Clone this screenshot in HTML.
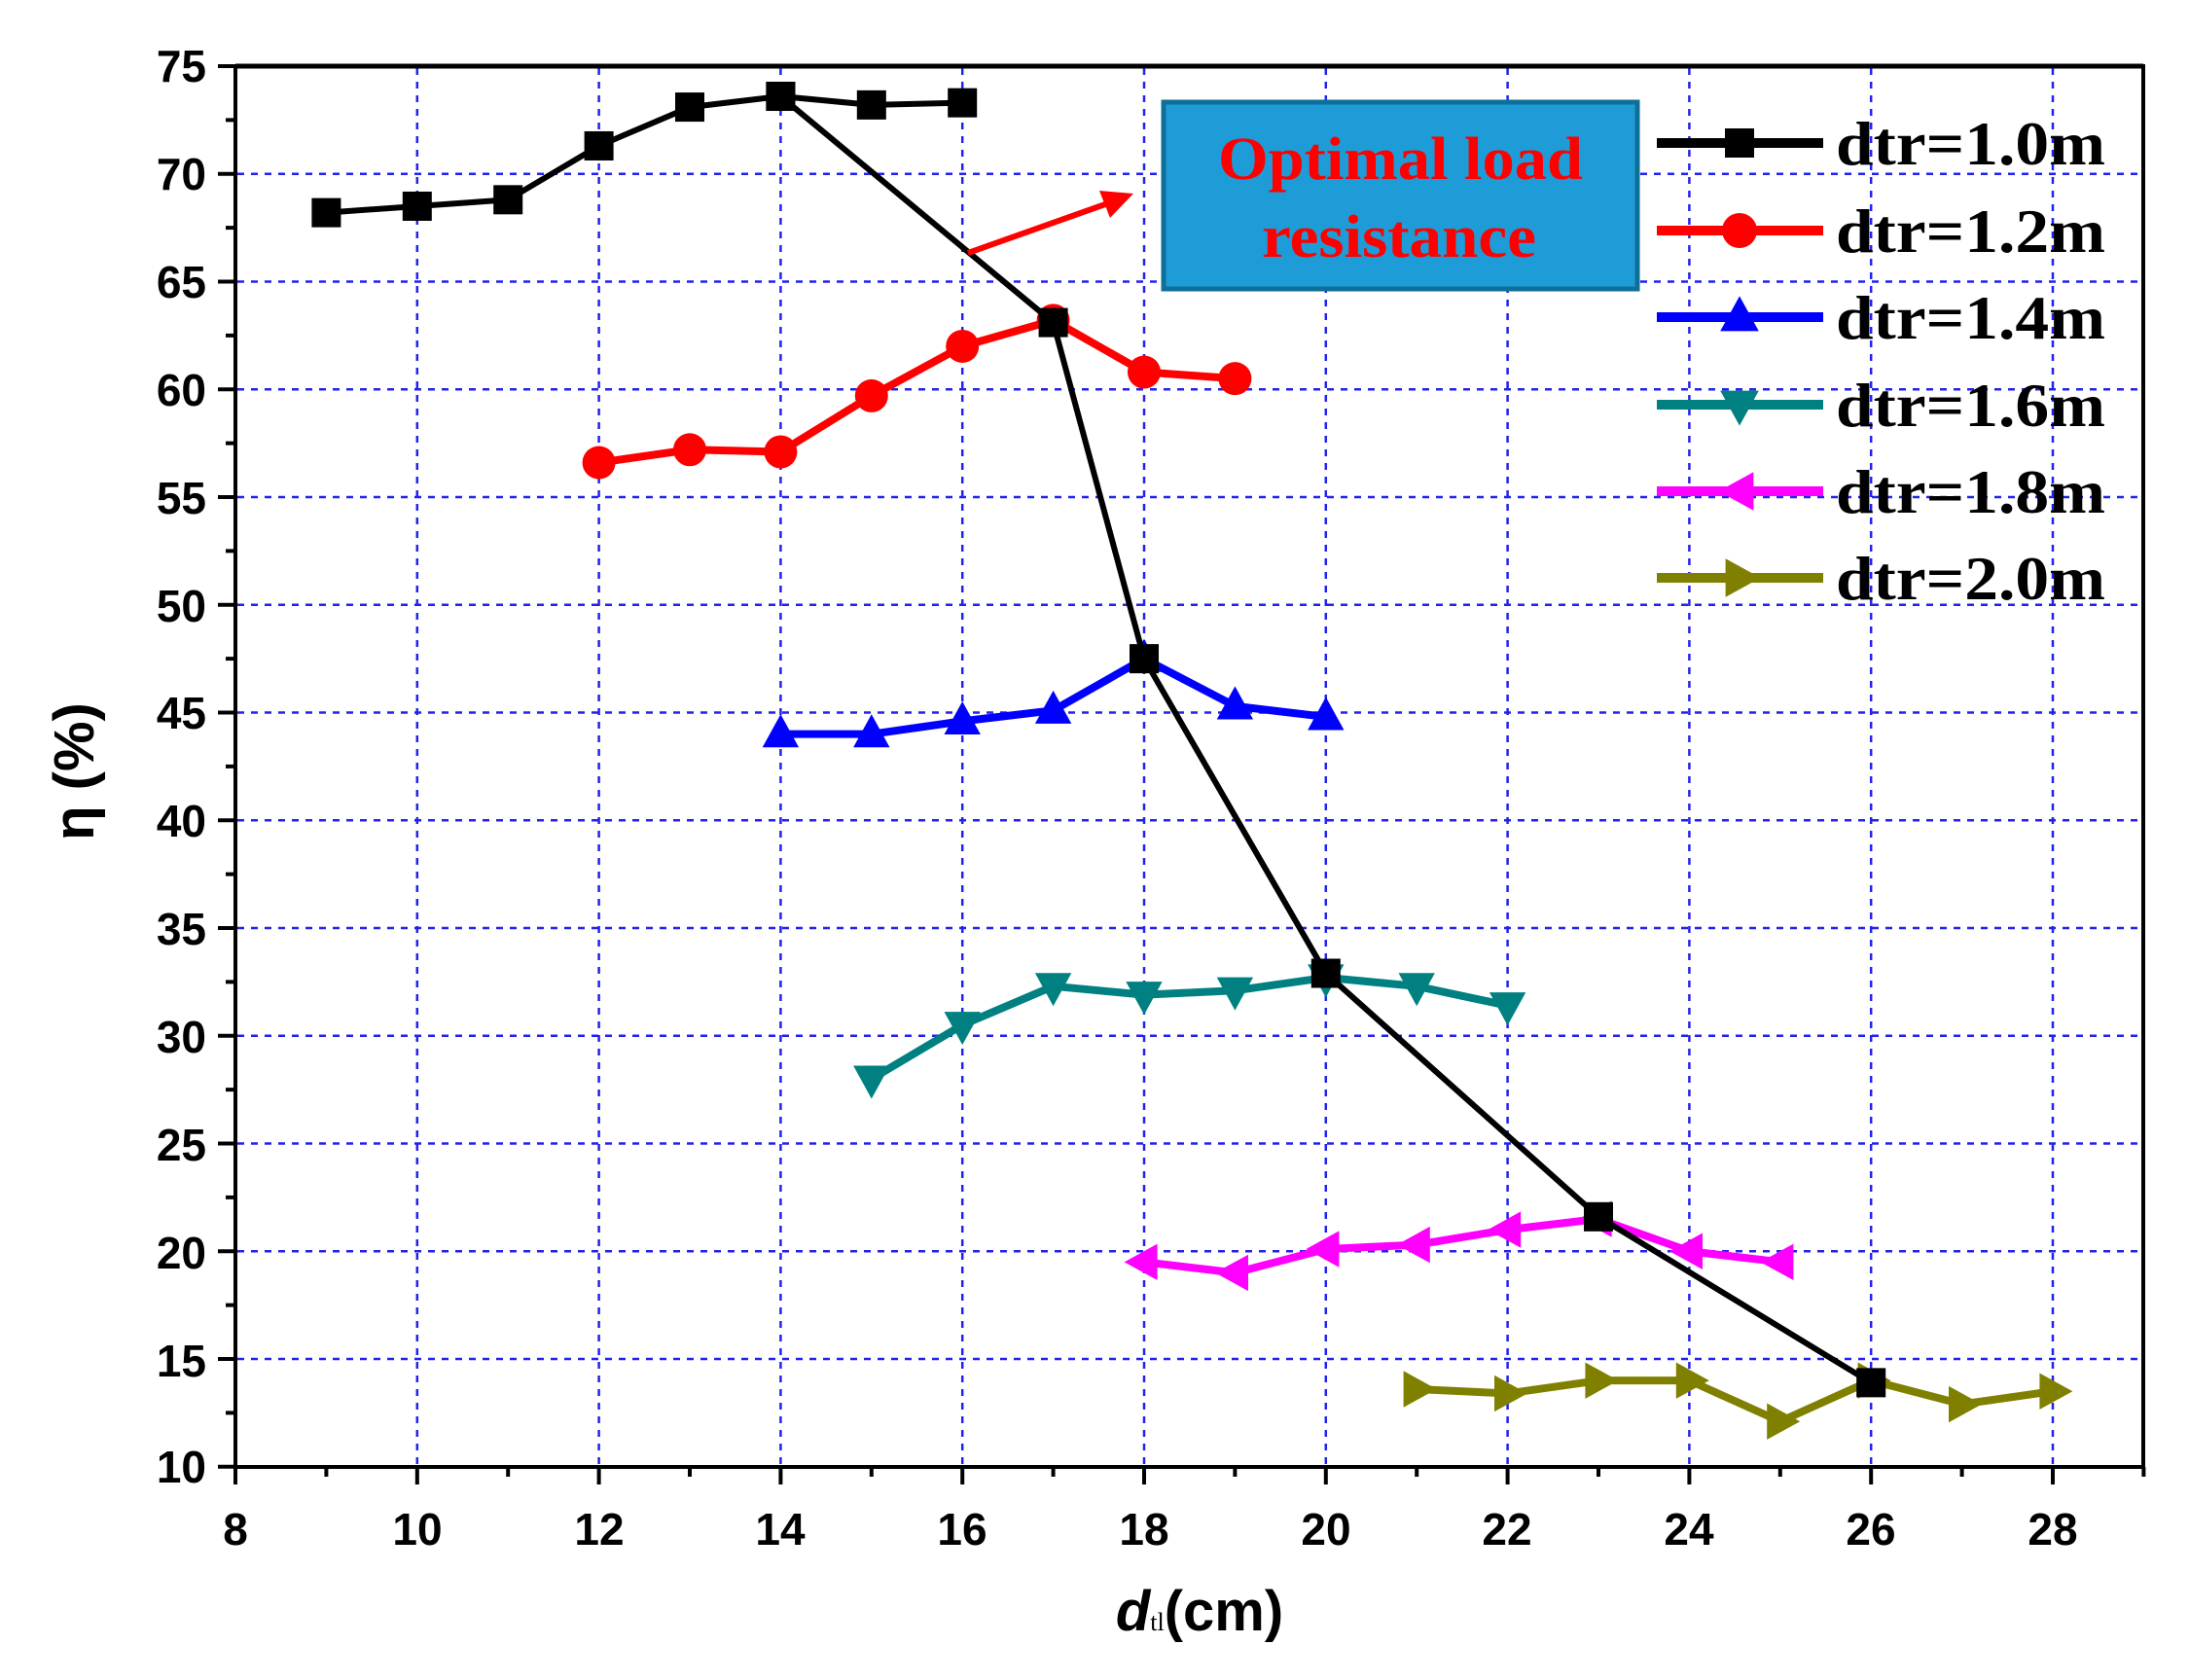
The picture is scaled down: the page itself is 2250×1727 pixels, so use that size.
<!DOCTYPE html>
<html><head><meta charset="utf-8"><style>body{margin:0;background:#fff}svg{display:block}</style></head>
<body>
<svg id="s" width="2250" height="1727" viewBox="0 0 2250 1727" xmlns="http://www.w3.org/2000/svg">
<rect width="2250" height="1727" fill="#fff"/>
<g id="grid" stroke="#2222ee" stroke-width="2.5" stroke-dasharray="7,7"></g>
<g id="ticks" stroke="#000" stroke-width="4"></g>
<rect x="242" y="68" width="1961" height="1440" fill="none" stroke="#000" stroke-width="4"/>
<line x1="242" y1="68" x2="2203" y2="68" stroke="#000" stroke-width="5"/>
<g font-family="Liberation Sans, sans-serif" font-weight="bold" font-size="46" fill="#000" text-anchor="end">
<text x="212" y="84">75</text><text x="212" y="195">70</text><text x="212" y="306">65</text><text x="212" y="417">60</text><text x="212" y="528">55</text><text x="212" y="639">50</text><text x="212" y="749">45</text><text x="212" y="860">40</text><text x="212" y="971">35</text><text x="212" y="1082">30</text><text x="212" y="1193">25</text><text x="212" y="1304">20</text><text x="212" y="1415">15</text><text x="212" y="1524">10</text>
</g>
<g font-family="Liberation Sans, sans-serif" font-weight="bold" font-size="46" fill="#000" text-anchor="middle">
<text x="242" y="1588">8</text><text x="429" y="1588">10</text><text x="616" y="1588">12</text><text x="802" y="1588">14</text><text x="989" y="1588">16</text><text x="1176" y="1588">18</text><text x="1363" y="1588">20</text><text x="1549" y="1588">22</text><text x="1736" y="1588">24</text><text x="1923" y="1588">26</text><text x="2110" y="1588">28</text>
</g>
<text x="1233" y="1676" text-anchor="middle" font-family="Liberation Sans, sans-serif" font-weight="bold" font-size="58"><tspan font-style="italic">d</tspan><tspan font-size="26" font-family="Liberation Serif, serif" font-weight="normal">tl</tspan>(cm)</text>
<text transform="translate(96,793) rotate(-90)" text-anchor="middle" font-family="Liberation Sans, sans-serif" font-weight="bold" font-size="58">η (%)</text>
<g id="series"></g>
<rect x="1196" y="105" width="487" height="192" fill="#1e9cd7" stroke="#0e6f9a" stroke-width="5"/>
<g font-family="Liberation Serif, serif" font-weight="bold" font-size="62" fill="#ff0000">
<text x="1252" y="184" textLength="375" lengthAdjust="spacingAndGlyphs">Optimal load</text>
<text x="1297" y="264" textLength="282" lengthAdjust="spacingAndGlyphs">resistance</text>
</g>
<line x1="995" y1="260" x2="1136" y2="210" stroke="#ff0000" stroke-width="6"/>
<polygon points="1165,199 1130,196 1141,224" fill="#ff0000"/>
<g id="legend"></g>
<g font-family="Liberation Serif, serif" font-weight="bold" font-size="64" fill="#000">
<text x="1887" y="169" textLength="277" lengthAdjust="spacingAndGlyphs">dtr=1.0m</text>
<text x="1887" y="259" textLength="277" lengthAdjust="spacingAndGlyphs">dtr=1.2m</text>
<text x="1887" y="348" textLength="277" lengthAdjust="spacingAndGlyphs">dtr=1.4m</text>
<text x="1887" y="438" textLength="277" lengthAdjust="spacingAndGlyphs">dtr=1.6m</text>
<text x="1887" y="527" textLength="277" lengthAdjust="spacingAndGlyphs">dtr=1.8m</text>
<text x="1887" y="616" textLength="277" lengthAdjust="spacingAndGlyphs">dtr=2.0m</text>
</g>
<script>
const NS="http://www.w3.org/2000/svg";
const X=v=>242+(v-8)*93.4, Y=v=>68+(75-v)*22.15;
function el(p,t,a){const e=document.createElementNS(NS,t);for(const k in a)e.setAttribute(k,a[k]);document.getElementById(p).appendChild(e);return e;}
for(let v=10;v<=28;v+=2)el('grid','line',{x1:X(v),y1:70,x2:X(v),y2:1506});
for(let v=15;v<=70;v+=5)el('grid','line',{x1:244,y1:Y(v),x2:2201,y2:Y(v)});
for(let v=8;v<=29;v++){const L=v%2==0?18:10;el('ticks','line',{x1:X(v),y1:1508,x2:X(v),y2:1508+L});}
for(let v=10;v<=75;v+=2.5){const L=(v%5==0)?18:10;el('ticks','line',{x1:242,y1:Y(v),x2:242-L,y2:Y(v)});}
function mk(p,type,cx,cy,c,s){
 if(type=='sq')el(p,'rect',{x:cx-s,y:cy-s,width:2*s,height:2*s,fill:c});
 else if(type=='ci')el(p,'circle',{cx:cx,cy:cy,r:s,fill:c});
 else{let pts;
  if(type=='up')pts=[[0,-s*1.2],[s*1.1,s*0.8],[-s*1.1,s*0.8]];
  if(type=='dn')pts=[[0,s*1.2],[s*1.1,-s*0.8],[-s*1.1,-s*0.8]];
  if(type=='lt')pts=[[-s*1.2,0],[s*0.8,s*1.1],[s*0.8,-s*1.1]];
  if(type=='rt')pts=[[s*1.2,0],[-s*0.8,s*1.1],[-s*0.8,-s*1.1]];
  el(p,'polygon',{points:pts.map(q=>(cx+q[0])+','+(cy+q[1])).join(' '),fill:c});}
}
const S=[
 ['#ff0000','ci',[[12,56.6],[13,57.2],[14,57.1],[15,59.7],[16,62],[17,63.2],[18,60.8],[19,60.5]]],
 ['#0000ff','up',[[14,44],[15,44],[16,44.6],[17,45.1],[18,47.5],[19,45.3],[20,44.8]]],
 ['#008080','dn',[[15,28],[16,30.5],[17,32.3],[18,31.9],[19,32.1],[20,32.7],[21,32.3],[22,31.4]]],
 ['#ff00ff','lt',[[18,19.5],[19,19],[20,20.1],[21,20.3],[22,21],[23,21.5],[24,20],[25,19.5]]],
 ['#808000','rt',[[21,13.6],[22,13.4],[23,14],[24,14],[25,12.1],[26,14],[27,12.9],[28,13.5]]],
 ['#000','sq',[[9,68.2],[10,68.5],[11,68.8],[12,71.3],[13,73.1],[14,73.6],[15,73.2],[16,73.3]]],
 ['#000','sq',[[14,73.6],[17,63.1],[18,47.5],[20,32.9],[23,21.6],[26,13.9]]]
];
for(const [c,t,d] of S){
 el('series','polyline',{points:d.map(p=>X(p[0])+','+Y(p[1])).join(' '),fill:'none',stroke:c,'stroke-width':c=='#000'?6:8,'stroke-linejoin':'round'});
 for(const p of d)mk('series',t,X(p[0]),Y(p[1]),c,t=='sq'?15:17);
}
const LG=[['#000','sq',147],['#ff0000','ci',237],['#0000ff','up',326],['#008080','dn',416],['#ff00ff','lt',505],['#808000','rt',594]];
for(const [c,t,y] of LG){el('legend','line',{x1:1703,y1:y,x2:1874,y2:y,stroke:c,'stroke-width':10});mk('legend',t,1788,y,c,t=='sq'?15:18);}
</script>
</svg>
</body></html>
